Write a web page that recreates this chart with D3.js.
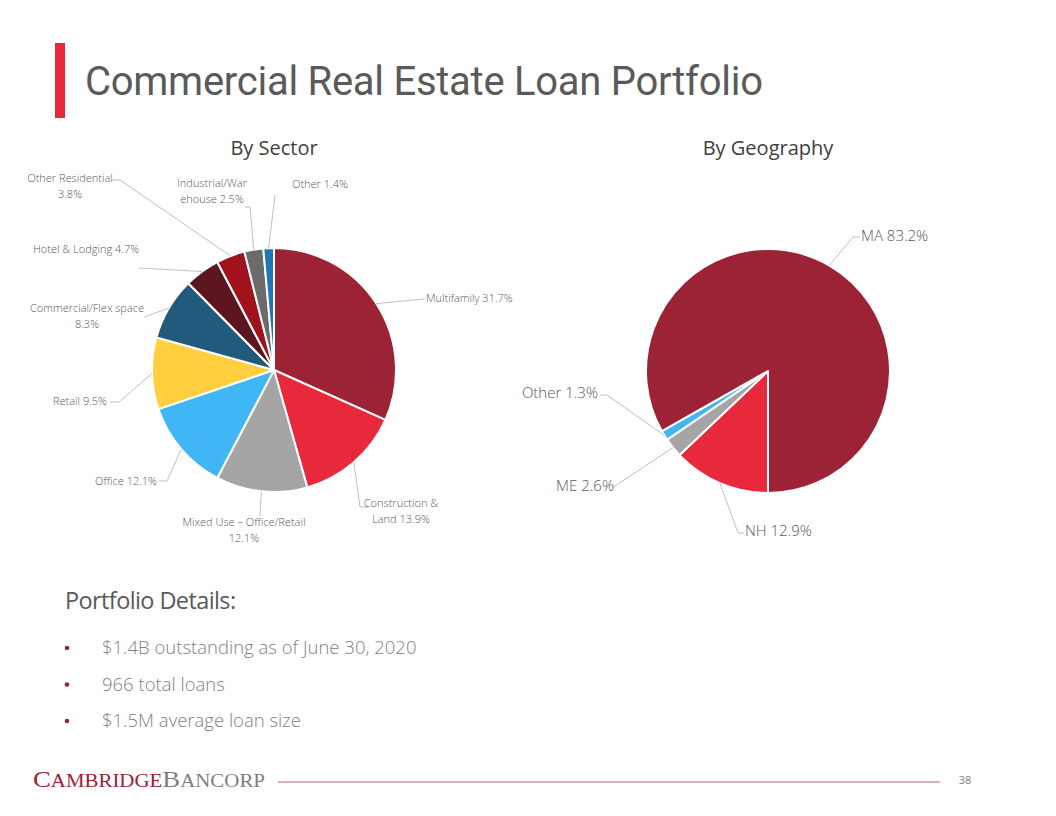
<!DOCTYPE html>
<html><head><meta charset="utf-8">
<script src="https://cdn.jsdelivr.net/npm/d3@7"></script>
<style>
html,body{margin:0;padding:0;background:#fff;}
svg{display:block;}
text{font-family:"Open Sans","Noto Sans",sans-serif;}
</style></head>
<body>
<script>
// ---- data ----
const sectorCategories = ["Multifamily","Construction & Land","Mixed Use – Office/Retail","Office","Retail","Commercial/Flex space","Hotel & Lodging","Other Residential","Industrial/Warehouse","Other"];
const sectorValues = [31.7, 13.9, 12.1, 12.1, 9.5, 8.3, 4.7, 3.8, 2.5, 1.4];
const sectorLabelLines = [["Multifamily  31.7%"],["Construction &","Land 13.9%"],["Mixed Use – Office/Retail","12.1%"],["Office 12.1%"],["Retail 9.5%"],["Commercial/Flex space","8.3%"],["Hotel & Lodging 4.7%"],["Other Residential","3.8%"],["Industrial/War","ehouse 2.5%"],["Other 1.4%"]];
const sectorColors = ["#9B2335","#E8293B","#A5A5A5","#41B6F5","#FFCF3F","#215A7A","#5C1620","#A0121C","#6B6B6B","#1F77B4"];

const geoCategories = ["NH","ME","Other","MA"];
const geoValues = [12.9, 2.6, 1.3, 83.2];
const geoLabelLines = [["NH 12.9%"],["ME 2.6%"],["Other 1.3%"],["MA 83.2%"]];
const geoColors = ["#E8293B","#A5A5A5","#41B6F5","#9B2335"];

const bullets = ["$1.4B outstanding as of June 30, 2020","966 total loans","$1.5M average loan size"];

// ---- layout (label placement) ----
const sectorLabelLayout = [
  {tx:426, ty:302, anchor:"start", pts:[[424,299]]},
  {tx:401, ty:507, anchor:"middle", pts:[[360,507],[367,507]]},
  {tx:244, ty:526, anchor:"middle", pts:[[260,516]]},
  {tx:157, ty:485, anchor:"end", pts:[[167,481],[159,481]]},
  {tx:107, ty:405, anchor:"end", pts:[[119,402],[110,402]]},
  {tx:87, ty:312, anchor:"middle", pts:[[144,317]]},
  {tx:86, ty:253, anchor:"middle", pts:[[139,268]]},
  {tx:70, ty:182, anchor:"middle", pts:[[120,180],[112,180]]},
  {tx:212, ty:187, anchor:"middle", pts:[[250,207],[245,207]]},
  {tx:292, ty:188, anchor:"start", pts:[[275,195]]}
];
const geoLabelLayout = [
  {tx:745, ty:536, anchor:"start", pts:[[738,533],[744,533]]},
  {tx:614, ty:491, anchor:"end", pts:[[612,488]]},
  {tx:598, ty:398, anchor:"end", pts:[[607,395],[600,395]]},
  {tx:861, ty:241, anchor:"start", pts:[[853,237],[860,237]]}
];

const W = 1056, H = 816;
const svg = d3.select("body").append("svg").attr("width", W).attr("height", H);

// Title
svg.append("rect").attr("x",55).attr("y",43).attr("width",10).attr("height",75).attr("fill","#E8293B");
svg.append("text").attr("x",85).attr("y",95).attr("font-size",40).attr("font-weight",400).attr("fill","#5A5A5A")
  .attr("textLength",678).attr("lengthAdjust","spacing")
  .style("font-family","Roboto, 'Liberation Sans', sans-serif").text("Commercial Real Estate Loan Portfolio");

function drawPie(cx, cy, r, title, values, colors, labels, layout, fontSize, lineH, startAngle){
  const g = svg.append("g");
  g.append("text").attr("x",cx).attr("y",155).attr("text-anchor","middle").attr("font-size",20)
    .attr("fill","#404040").text(title);
  const pie = d3.pie().sort(null).startAngle(startAngle).endAngle(startAngle+2*Math.PI);
  const arcs = pie(values);
  const arc = d3.arc().innerRadius(0).outerRadius(r);
  const edge = d3.arc().innerRadius(r).outerRadius(r);
  const pg = g.append("g").attr("transform",`translate(${cx},${cy})`);
  pg.selectAll("path").data(arcs).join("path").attr("d",arc)
    .attr("fill",(d,i)=>colors[i]).attr("stroke","#fff").attr("stroke-width",2).attr("stroke-linejoin","round");
  arcs.forEach((a,i)=>{
    const c = edge.centroid(a);
    const p0 = [cx + c[0], cy + c[1]];
    const L = layout[i];
    const pts = [p0, ...L.pts];
    g.append("path").attr("d", d3.line()(pts)).attr("fill","none").attr("stroke","#BFBFBF").attr("stroke-width",1);
    const t = g.append("text").attr("x",L.tx).attr("y",L.ty).attr("text-anchor",L.anchor)
      .attr("font-size",fontSize).attr("fill","#595959").attr("font-weight",300);
    labels[i].forEach((ln,j)=>{
      t.append("tspan").attr("x",L.tx).attr("dy", j===0?0:lineH).text(ln);
    });
  });
}

drawPie(274, 370, 122, "By Sector", sectorValues, sectorColors, sectorLabelLines, sectorLabelLayout, 11, 16, 0);
drawPie(768, 371, 122, "By Geography", geoValues, geoColors, geoLabelLines, geoLabelLayout, 15, 18, Math.PI);

// Portfolio details
svg.append("text").attr("x",65).attr("y",609).attr("font-size",23.5).attr("fill","#595959")
  .attr("letter-spacing",-0.6).text("Portfolio Details:");
const by = d3.scalePoint().domain(d3.range(bullets.length)).range([654, 727]);
bullets.forEach((b,i)=>{
  svg.append("circle").attr("cx",67).attr("cy",by(i)-6).attr("r",2.3).attr("fill","#9B2335");
  svg.append("text").attr("x",102).attr("y",by(i)).attr("font-size",18.5).attr("font-weight",300)
    .attr("fill","#7F7F7F").text(b);
});

// Footer
const ft = svg.append("text").attr("x",33).attr("y",787).style("font-family","'Liberation Serif','DejaVu Serif',serif")
  .attr("font-size",23).attr("textLength",232).attr("lengthAdjust","spacingAndGlyphs");
ft.append("tspan").attr("fill","#9B2335").text("C");
ft.append("tspan").attr("fill","#9B2335").attr("font-size",18).text("AMBRIDGE");
ft.append("tspan").attr("fill","#7F7F7F").text("B");
ft.append("tspan").attr("fill","#7F7F7F").attr("font-size",18).text("ANCORP");
svg.append("line").attr("x1",278).attr("x2",940).attr("y1",782).attr("y2",782).attr("stroke","#B56470").attr("stroke-width",1.2);
svg.append("text").attr("x",965).attr("y",784).attr("text-anchor","middle").attr("font-size",11).attr("fill","#808080").text("38");
</script>
</body></html>
